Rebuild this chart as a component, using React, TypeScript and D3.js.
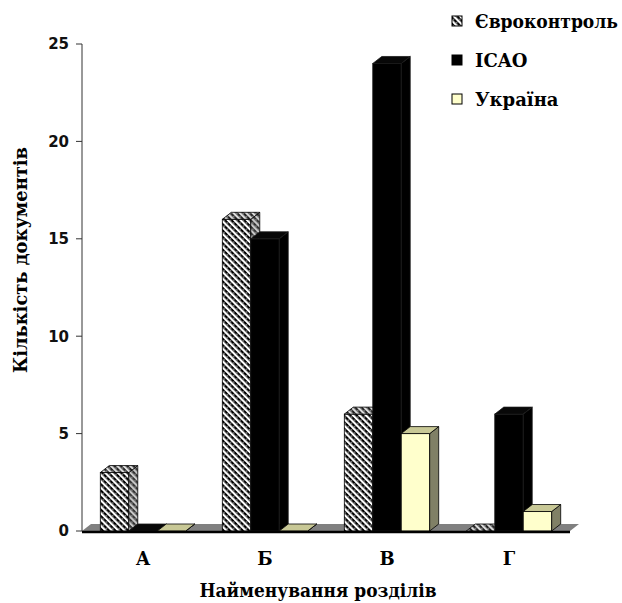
import React from 'react';
import * as d3 from 'd3';

const categories = ['А', 'Б', 'В', 'Г'];
const seriesNames = ['Євроконтроль', 'ICAO', 'Україна'];
const eurocontrol = [3, 16, 6, 0];
const icao = [0, 15, 24, 6];
const ukraine = [0, 0, 5, 1];
const yTicks = [0, 5, 10, 15, 20, 25];

const width = 622;
const height = 603;
const margin = { top: 44, right: 52, bottom: 72, left: 82 };
const dx = 9;
const dy = -7;

const serif = "'DejaVu Serif', serif";
const sans = "'DejaVu Sans', sans-serif";

const styles = [
  { front: 'url(#hatch)', side: 'url(#hatchSide)', top: 'url(#hatchTop)', stroke: '#000' },
  { front: '#000000', side: '#000000', top: '#080808', stroke: '#1a1a1a' },
  { front: '#ffffcc', side: '#808066', top: '#c8c896', stroke: '#000' },
];

const pts = (p: number[][]) => p.map(q => q.join(',')).join(' ');

const Hatch = ({ id, bg, fg }: { id: string; bg: string; fg: string }) => (
  <pattern id={id} patternUnits="userSpaceOnUse" width={4.5} height={4.5} patternTransform="rotate(45)">
    <rect width={4.5} height={4.5} fill={bg} />
    <rect width={4.5} height={2.3} fill={fg} />
    <rect x={3} y={0.6} width={1} height={1} fill={bg} />
  </pattern>
);

const App = () => {
  const x0 = d3.scaleBand()
    .domain(categories)
    .range([margin.left, width - margin.right])
    .paddingInner(0.3)
    .paddingOuter(0.15);

  const x1 = d3.scaleBand()
    .domain(seriesNames)
    .range([0, x0.bandwidth()]);

  const y = d3.scaleLinear()
    .domain([0, 25])
    .range([height - margin.bottom, margin.top]);

  const base = y(0);
  const xStart = margin.left;
  const xEnd = width - margin.right;
  const series = [eurocontrol, icao, ukraine];
  const bw = x1.bandwidth();

  return (
    <svg width={width} height={height} style={{ position: 'absolute', left: 0, top: 0, background: '#fff' }}>
      <defs>
        <Hatch id="hatch" bg="#ffffff" fg="#000000" />
        <Hatch id="hatchSide" bg="#c8c8c8" fg="#333333" />
        <Hatch id="hatchTop" bg="#dddddd" fg="#222222" />
      </defs>

      {/* floor */}
      <polygon
        points={pts([[xStart, base], [xStart + dx, base + dy], [xEnd + dx, base + dy], [xEnd, base]])}
        fill="#808080"
      />

      {/* y axis */}
      <line x1={xStart} x2={xStart} y1={margin.top} y2={base} stroke="#333" />
      {yTicks.map(t => (
        <g key={t}>
          <line x1={xStart - 6} x2={xStart} y1={y(t)} y2={y(t)} stroke="#333" />
          <text
            x={xStart - 13}
            y={y(t)}
            dy="0.36em"
            textAnchor="end"
            fontSize={15}
            fontWeight="bold"
            fill="#111"
            style={{ fontFamily: sans }}
          >
            {t}
          </text>
        </g>
      ))}

      {/* bars */}
      {categories.map((cat, ci) =>
        series.map((vals, si) => {
          const st = styles[si];
          const bx = (x0(cat) as number) + (x1(seriesNames[si]) as number);
          const top = y(vals[ci]);
          return (
            <g key={`${cat}-${si}`} strokeWidth={0.8} stroke={st.stroke}>
              <rect x={bx} y={top} width={bw} height={base - top} fill={st.front} />
              <polygon
                points={pts([[bx + bw, top], [bx + bw + dx, top + dy], [bx + bw + dx, base + dy], [bx + bw, base]])}
                fill={st.side}
              />
              <polygon
                points={pts([[bx, top], [bx + dx, top + dy], [bx + bw + dx, top + dy], [bx + bw, top]])}
                fill={st.top}
              />
            </g>
          );
        })
      )}

      {/* base line */}
      <line x1={xStart} x2={xEnd} y1={base + 1} y2={base + 1} stroke="#000" strokeWidth={2.5} />

      {/* category labels */}
      {categories.map(cat => (
        <text
          key={cat}
          x={(x0(cat) as number) + x0.bandwidth() / 2}
          y={565}
          textAnchor="middle"
          fontSize={18}
          fontWeight="bold"
          style={{ fontFamily: serif }}
        >
          {cat}
        </text>
      ))}

      {/* axis titles */}
      <text
        x={318}
        y={597}
        textAnchor="middle"
        fontSize={18}
        fontWeight="bold"
        textLength={237}
        lengthAdjust="spacingAndGlyphs"
        style={{ fontFamily: serif }}
      >
        Найменування розділів
      </text>
      <text
        transform="translate(27,260) rotate(-90)"
        textAnchor="middle"
        fontSize={18}
        fontWeight="bold"
        textLength={226}
        lengthAdjust="spacingAndGlyphs"
        style={{ fontFamily: serif }}
      >
        Кількість документів
      </text>

      {/* legend */}
      <g transform="translate(452,16)">
        {seriesNames.map((name, i) => (
          <g key={name} transform={`translate(0,${i * 39})`}>
            <rect width={10} height={10} fill={styles[i].front} stroke="#000" />
            <text
              x={23}
              y={12}
              fontSize={18}
              fontWeight="bold"
              textLength={i === 0 ? 143 : undefined}
              lengthAdjust="spacingAndGlyphs"
              style={{ fontFamily: serif }}
            >
              {name}
            </text>
          </g>
        ))}
      </g>
    </svg>
  );
};

export default App;
